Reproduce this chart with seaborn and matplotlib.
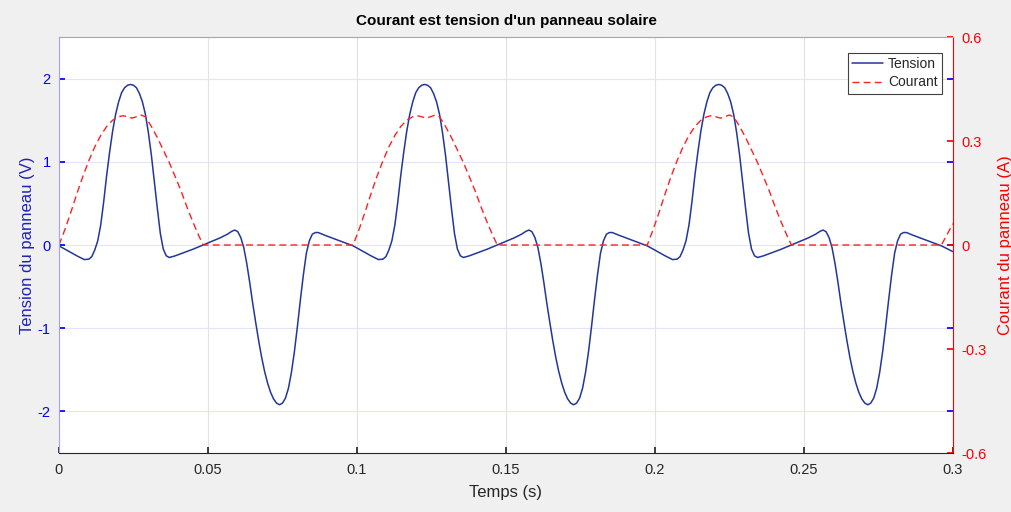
import numpy as np
import pandas as pd
import matplotlib
matplotlib.use('Agg')
import matplotlib.pyplot as plt
import seaborn as sns

# Tension du panneau (V)
temps_tension = [
    0.0000, 0.0030, 0.0060, 0.0085, 0.0100, 0.0110, 0.0120, 0.0130, 0.0140, 0.0150,
    0.0160, 0.0170, 0.0180, 0.0190, 0.0200, 0.0210, 0.0220, 0.0230, 0.0240, 0.0250,
    0.0260, 0.0270, 0.0280, 0.0290, 0.0300, 0.0310, 0.0320, 0.0330, 0.0340, 0.0350,
    0.0360, 0.0370, 0.0390, 0.0420, 0.0450, 0.0480, 0.0510, 0.0540, 0.0565, 0.0580,
    0.0590, 0.0600, 0.0610, 0.0620, 0.0630, 0.0640, 0.0650, 0.0660, 0.0670, 0.0680,
    0.0690, 0.0700, 0.0710, 0.0720, 0.0730, 0.0740, 0.0750, 0.0760, 0.0770, 0.0780,
    0.0790, 0.0800, 0.0810, 0.0820, 0.0830, 0.0840, 0.0850, 0.0860, 0.0870, 0.0890,
    0.0920, 0.0950,
    0.0987, 0.1017, 0.1047, 0.1072, 0.1087, 0.1097, 0.1107, 0.1117, 0.1127, 0.1137,
    0.1147, 0.1157, 0.1167, 0.1177, 0.1187, 0.1197, 0.1207, 0.1217, 0.1227, 0.1237,
    0.1247, 0.1257, 0.1267, 0.1277, 0.1287, 0.1297, 0.1307, 0.1317, 0.1327, 0.1337,
    0.1347, 0.1357, 0.1377, 0.1407, 0.1437, 0.1467, 0.1497, 0.1527, 0.1552, 0.1567,
    0.1577, 0.1587, 0.1597, 0.1607, 0.1617, 0.1627, 0.1637, 0.1647, 0.1657, 0.1667,
    0.1677, 0.1687, 0.1697, 0.1707, 0.1717, 0.1727, 0.1737, 0.1747, 0.1757, 0.1767,
    0.1777, 0.1787, 0.1797, 0.1807, 0.1817, 0.1827, 0.1837, 0.1847, 0.1857, 0.1877,
    0.1907, 0.1937,
    0.1974, 0.2004, 0.2034, 0.2059, 0.2074, 0.2084, 0.2094, 0.2104, 0.2114, 0.2124,
    0.2134, 0.2144, 0.2154, 0.2164, 0.2174, 0.2184, 0.2194, 0.2204, 0.2214, 0.2224,
    0.2234, 0.2244, 0.2254, 0.2264, 0.2274, 0.2284, 0.2294, 0.2304, 0.2314, 0.2324,
    0.2334, 0.2344, 0.2364, 0.2394, 0.2424, 0.2454, 0.2484, 0.2514, 0.2539, 0.2554,
    0.2564, 0.2574, 0.2584, 0.2594, 0.2604, 0.2614, 0.2624, 0.2634, 0.2644, 0.2654,
    0.2664, 0.2674, 0.2684, 0.2694, 0.2704, 0.2714, 0.2724, 0.2734, 0.2744, 0.2754,
    0.2764, 0.2774, 0.2784, 0.2794, 0.2804, 0.2814, 0.2824, 0.2834, 0.2844, 0.2864,
    0.2894, 0.2924,
    0.2961, 0.3000,
]
tension = [
    -0.01, -0.07, -0.13, -0.175, -0.17, -0.14, -0.06, 0.05, 0.24, 0.52,
    0.84, 1.12, 1.37, 1.57, 1.72, 1.83, 1.89, 1.92, 1.93, 1.92,
    1.89, 1.82, 1.72, 1.57, 1.35, 1.08, 0.76, 0.44, 0.14, -0.05,
    -0.13, -0.15, -0.13, -0.09, -0.05, -0.005, 0.04, 0.085, 0.13, 0.165,
    0.18, 0.16, 0.09, -0.03, -0.22, -0.45, -0.70, -0.93, -1.15, -1.35,
    -1.52, -1.66, -1.77, -1.85, -1.90, -1.92, -1.90, -1.84, -1.72, -1.53,
    -1.28, -0.98, -0.66, -0.36, -0.10, 0.05, 0.13, 0.15, 0.15, 0.12,
    0.08, 0.04,
    -0.01, -0.07, -0.13, -0.175, -0.17, -0.14, -0.06, 0.05, 0.24, 0.52,
    0.84, 1.12, 1.37, 1.57, 1.72, 1.83, 1.89, 1.92, 1.93, 1.92,
    1.89, 1.82, 1.72, 1.57, 1.35, 1.08, 0.76, 0.44, 0.14, -0.05,
    -0.13, -0.15, -0.13, -0.09, -0.05, -0.005, 0.04, 0.085, 0.13, 0.165,
    0.18, 0.16, 0.09, -0.03, -0.22, -0.45, -0.70, -0.93, -1.15, -1.35,
    -1.52, -1.66, -1.77, -1.85, -1.90, -1.92, -1.90, -1.84, -1.72, -1.53,
    -1.28, -0.98, -0.66, -0.36, -0.10, 0.05, 0.13, 0.15, 0.15, 0.12,
    0.08, 0.04,
    -0.01, -0.07, -0.13, -0.175, -0.17, -0.14, -0.06, 0.05, 0.24, 0.52,
    0.84, 1.12, 1.37, 1.57, 1.72, 1.83, 1.89, 1.92, 1.93, 1.92,
    1.89, 1.82, 1.72, 1.57, 1.35, 1.08, 0.76, 0.44, 0.14, -0.05,
    -0.13, -0.15, -0.13, -0.09, -0.05, -0.005, 0.04, 0.085, 0.13, 0.165,
    0.18, 0.16, 0.09, -0.03, -0.22, -0.45, -0.70, -0.93, -1.15, -1.35,
    -1.52, -1.66, -1.77, -1.85, -1.90, -1.92, -1.90, -1.84, -1.72, -1.53,
    -1.28, -0.98, -0.66, -0.36, -0.10, 0.05, 0.13, 0.15, 0.15, 0.12,
    0.08, 0.04,
    -0.01, -0.08,
]

# Courant du panneau (A)
temps_courant = [
    0.0000, 0.0020, 0.0040, 0.0060, 0.0080, 0.0100, 0.0120, 0.0140, 0.0160, 0.0180,
    0.0200, 0.0215, 0.0230, 0.0245, 0.0260, 0.0275, 0.0290, 0.0310, 0.0330, 0.0350,
    0.0370, 0.0390, 0.0410, 0.0430, 0.0450, 0.0470, 0.0484,
    0.0987, 0.1007, 0.1027, 0.1047, 0.1067, 0.1087, 0.1107, 0.1127, 0.1147, 0.1167,
    0.1187, 0.1202, 0.1217, 0.1232, 0.1247, 0.1262, 0.1277, 0.1297, 0.1317, 0.1337,
    0.1357, 0.1377, 0.1397, 0.1417, 0.1437, 0.1457, 0.1471,
    0.1974, 0.1994, 0.2014, 0.2034, 0.2054, 0.2074, 0.2094, 0.2114, 0.2134, 0.2154,
    0.2174, 0.2189, 0.2204, 0.2219, 0.2234, 0.2249, 0.2264, 0.2284, 0.2304, 0.2324,
    0.2344, 0.2364, 0.2384, 0.2404, 0.2424, 0.2444, 0.2458,
    0.2961, 0.2980, 0.3000,
]
courant = [
    0.000, 0.045, 0.095, 0.148, 0.198, 0.243, 0.283, 0.316, 0.342, 0.360,
    0.370, 0.373, 0.370, 0.366, 0.370, 0.375, 0.370, 0.342, 0.310, 0.274,
    0.238, 0.197, 0.155, 0.108, 0.065, 0.025, 0.000,
    0.000, 0.045, 0.095, 0.148, 0.198, 0.243, 0.283, 0.316, 0.342, 0.360,
    0.370, 0.373, 0.370, 0.366, 0.370, 0.375, 0.370, 0.342, 0.310, 0.274,
    0.238, 0.197, 0.155, 0.108, 0.065, 0.025, 0.000,
    0.000, 0.045, 0.095, 0.148, 0.198, 0.243, 0.283, 0.316, 0.342, 0.360,
    0.370, 0.373, 0.370, 0.366, 0.370, 0.375, 0.370, 0.342, 0.310, 0.274,
    0.238, 0.197, 0.155, 0.108, 0.065, 0.025, 0.000,
    0.000, 0.030, 0.062,
]

x_ticks = [0, 0.05, 0.1, 0.15, 0.2, 0.25, 0.3]
x_labels = ['0', '0.05', '0.1', '0.15', '0.2', '0.25', '0.3']
y_ticks_tension = [-2, -1, 0, 1, 2]
y_labels_tension = ['-2', '-1', '0', '1', '2']
y_ticks_courant = [-0.6, -0.3, 0, 0.3, 0.6]
y_labels_courant = ['-0.6', '-0.3', '0', '0.3', '0.6']

sns.set_theme(style='white')
plt.rcParams['font.family'] = ['Liberation Sans', 'DejaVu Sans']

df_tension = pd.DataFrame({'temps': temps_tension, 'tension': tension})
df_courant = pd.DataFrame({'temps': temps_courant, 'courant': courant})

fig = plt.figure(figsize=(10.12, 5.12), dpi=100, facecolor='#f0f0f0')
ax = fig.add_axes([0.0583, 0.1152, 0.8834, 0.8125])
ax.set_facecolor('white')
ax2 = ax.twinx()

sns.lineplot(data=df_tension, x='temps', y='tension', ax=ax, sort=False,
             estimator=None, color='#23369a', linewidth=1.1, label='Tension', legend=False)
sns.lineplot(data=df_courant, x='temps', y='courant', ax=ax2, sort=False,
             estimator=None, color='#ff2020', linewidth=1.0, label='Courant', legend=False)
ax2.lines[0].set_dashes((5, 3))

ax.set_xlim(0, 0.3)
ax.set_ylim(-2.5, 2.5)
ax2.set_ylim(-0.6, 0.6)

ax.set_xticks(x_ticks)
ax.set_xticklabels(x_labels, fontsize=10.5, color='#262626')
ax.set_yticks(y_ticks_tension)
ax.set_yticklabels(y_labels_tension, fontsize=10.5, color='blue')
ax2.set_yticks(y_ticks_courant)
ax2.set_yticklabels(y_labels_courant, fontsize=10.5, color='red')

# grille facon MATLAB
ax.grid(True, axis='x', color='#e3e3e3', linewidth=0.8)
ax.grid(True, axis='y', color='#e3e3fa', linewidth=0.8)
ax2.grid(False)

ax.tick_params(axis='x', direction='in', length=4, bottom=True, top=False,
               color='#262626', pad=7)
ax.tick_params(axis='y', direction='in', length=4, left=True, right=True,
               color='blue', pad=6)
ax2.tick_params(axis='y', direction='in', length=4, right=True, color='red', pad=6)

for sp in ['left', 'right', 'top', 'bottom']:
    ax.spines[sp].set_visible(False)
ax2.spines['left'].set_color('#a0a0ff')
ax2.spines['right'].set_color('red')
ax2.spines['top'].set_color('#a6a6a6')
ax2.spines['bottom'].set_color('#262626')
for sp in ax2.spines.values():
    sp.set_linewidth(0.8)

ax.set_xlabel('Temps (s)', fontsize=12, color='#262626', labelpad=6)
ax.set_ylabel('Tension du panneau (V)', fontsize=12, color='#2020c0', labelpad=2)
ax2.set_ylabel('Courant du panneau (A)', fontsize=12, color='red', labelpad=8)
ax.set_title("Courant est tension d'un panneau solaire", fontsize=11,
             fontweight='bold', color='black', pad=9)

handles = ax.get_lines()[:1] + ax2.get_lines()[:1]
leg = ax2.legend(handles, ['Tension', 'Courant'], loc='upper right',
                 bbox_to_anchor=(0.9877, 0.9615), borderaxespad=0, fontsize=10,
                 frameon=True, fancybox=False, framealpha=1, edgecolor='#404040',
                 handlelength=2.2, labelspacing=0.3, borderpad=0.3, handletextpad=0.4)
leg.get_frame().set_linewidth(0.8)

fig.savefig('out.png', dpi=100, facecolor=fig.get_facecolor())
